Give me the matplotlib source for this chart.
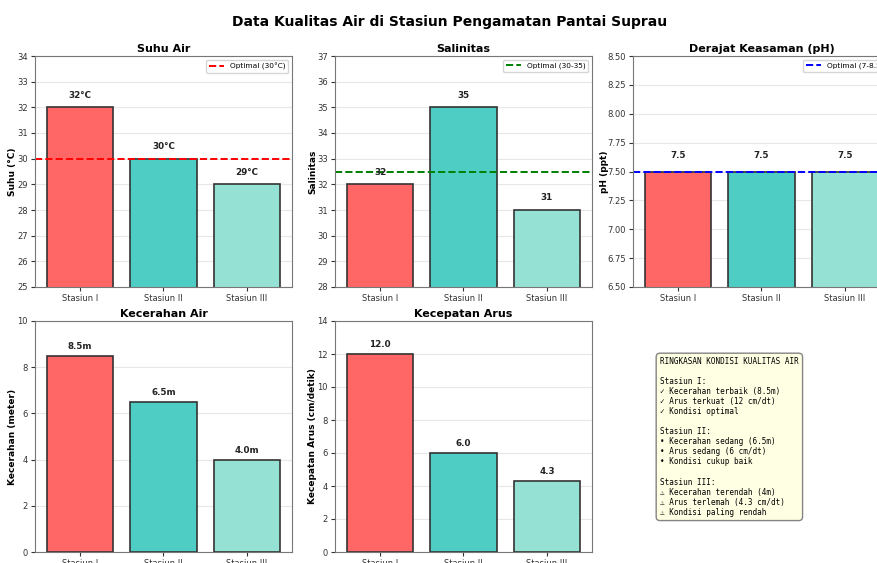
import matplotlib.pyplot as plt

stasiun = ['Stasiun I', 'Stasiun II', 'Stasiun III']
suhu = [32, 30, 29]
salinitas = [32, 35, 31]
ph = [7.5, 7.5, 7.5]
kecerahan = [8.5, 6.5, 4.0]
arus = [12.0, 6.0, 4.3]

warna = ['#FF6666', '#4ECDC4', '#95E1D3']

W, H = 878, 563
fig = plt.figure(figsize=(W / 100, H / 100), dpi=100)


def kotak(x0, y0, x1, y1):
    # pixel box -> figure fraction
    return fig.add_axes([x0 / W, 1 - y1 / H, (x1 - x0) / W, (y1 - y0) / H])


def gambar_bar(ax, nilai, judul, ylabel, ylim, offset, fmt, label_x=-0.07):
    bars = ax.bar(stasiun, nilai, color=warna, edgecolor='#333333', linewidth=1.2)
    ax.set_title(judul, fontsize=8, fontweight='bold', pad=3)
    ax.set_ylabel(ylabel, fontsize=6.5, fontweight='bold')
    ax.yaxis.set_label_coords(label_x, 0.5)
    ax.set_ylim(ylim)
    ax.grid(axis='y', alpha=0.3)
    ax.set_axisbelow(True)
    ax.tick_params(labelsize=6, colors='#333333', length=3, pad=2)
    for s in ax.spines.values():
        s.set_color('#777777')
    for b, v in zip(bars, nilai):
        ax.text(b.get_x() + b.get_width() / 2, v + offset, fmt(v),
                ha='center', va='bottom', fontsize=6.3, fontweight='bold', color='#222222')


fig.text(450 / W, 1 - 22 / H, 'Data Kualitas Air di Stasiun Pengamatan Pantai Suprau',
         ha='center', va='center', fontsize=10, fontweight='bold')

ax1 = kotak(35, 56, 292, 287)
gambar_bar(ax1, suhu, 'Suhu Air', 'Suhu (°C)', (25, 34), 0.3, lambda v: f'{v}°C')
ax1.axhline(30, color='red', linestyle='--', linewidth=1.4, label='Optimal (30°C)')
ax1.legend(loc='upper right', fontsize=5.3)

ax2 = kotak(335, 56, 592, 287)
gambar_bar(ax2, salinitas, 'Salinitas', 'Salinitas', (28, 37), 0.3, lambda v: f'{v}')
ax2.axhline(32.5, color='green', linestyle='--', linewidth=1.4, label='Optimal (30-35)')
ax2.legend(loc='upper right', fontsize=5.3)

ax3 = kotak(633, 56, 890, 287)
gambar_bar(ax3, ph, 'Derajat Keasaman (pH)', 'pH (ppt)', (6.5, 8.5), 0.1, lambda v: f'{v}',
           label_x=-0.093)
ax3.axhline(7.5, color='blue', linestyle='--', linewidth=1.4, label='Optimal (7-8.5)')
ax3.legend(loc='upper right', fontsize=5.3)

ax4 = kotak(35, 321, 292, 552)
gambar_bar(ax4, kecerahan, 'Kecerahan Air', 'Kecerahan (meter)', (0, 10), 0.2, lambda v: f'{v:.1f}m')

ax5 = kotak(335, 321, 592, 552)
gambar_bar(ax5, arus, 'Kecepatan Arus', 'Kecepatan Arus (cm/detik)', (0, 14), 0.3, lambda v: f'{v:.1f}')

ringkasan = ('RINGKASAN KONDISI KUALITAS AIR\n\n'
             'Stasiun I:\n'
             '✓ Kecerahan terbaik (8.5m)\n'
             '✓ Arus terkuat (12 cm/dt)\n'
             '✓ Kondisi optimal\n\n'
             'Stasiun II:\n'
             '• Kecerahan sedang (6.5m)\n'
             '• Arus sedang (6 cm/dt)\n'
             '• Kondisi cukup baik\n\n'
             'Stasiun III:\n'
             '⚠ Kecerahan terendah (4m)\n'
             '⚠ Arus terlemah (4.3 cm/dt)\n'
             '⚠ Kondisi paling rendah')
fig.text(660 / W, 1 - 357 / H, ringkasan, ha='left', va='top', fontsize=5.5,
         family=['DejaVu Sans Mono', 'DejaVu Sans'], linespacing=1.15,
         bbox=dict(boxstyle='round,pad=0.5', facecolor='#FFFFE0', edgecolor='#777777', alpha=0.9))

fig.savefig('out.png', dpi=100)
